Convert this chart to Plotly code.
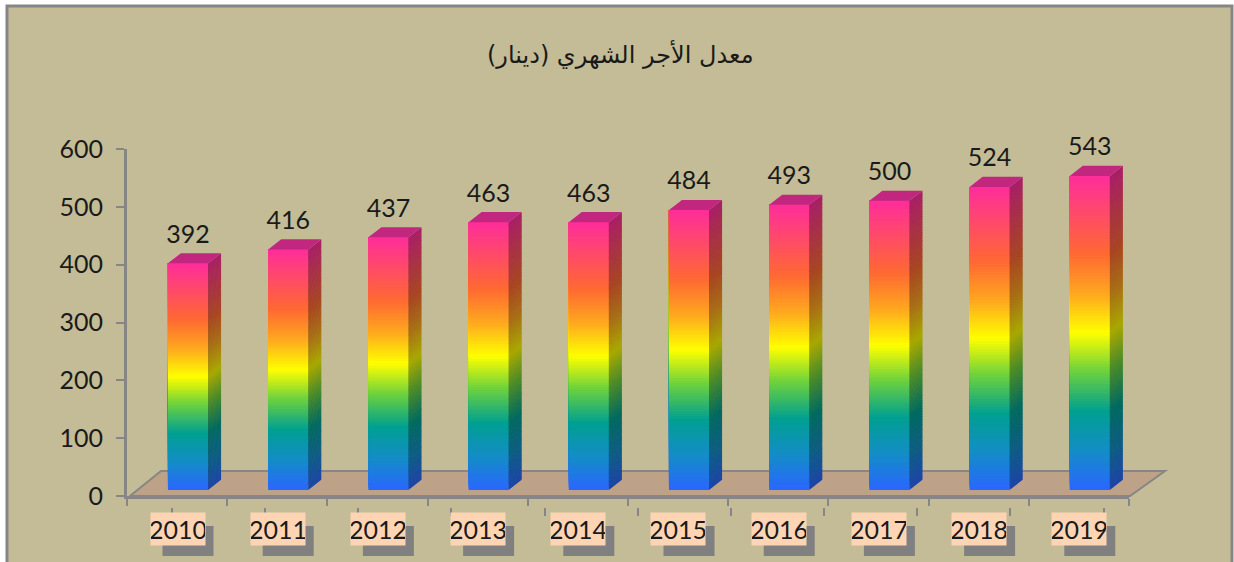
import plotly.graph_objects as go

W, H = 1234, 562
years = ["2010", "2011", "2012", "2013", "2014", "2015", "2016", "2017", "2018", "2019"]
wages = [392, 416, 437, 463, 463, 484, 493, 500, 524, 543]
y_ticks = [0, 100, 200, 300, 400, 500, 600]
title = "معدل الأجر الشهري (دينار)"

gradient_stops = [
    (0.00, (42, 102, 255)), (0.12, (20, 140, 200)), (0.25, (0, 160, 145)),
    (0.38, (110, 210, 60)), (0.50, (255, 255, 0)), (0.62, (255, 170, 30)),
    (0.75, (255, 105, 50)), (1.00, (255, 45, 155)),
]
N = 110
BASE = 10.4      # bars stand forward of the axis floor (data units)
DX, DY = 0.13, 17.5  # 3-D extrusion of the bars (data units)
HALF = 0.2
BG, GREY = "#C4BC96", "#868686"
stray_ticks = [172, 265, 358, 451, 545, 638, 731, 824, 917, 1010, 1104]


def px(x):
    return x / W


def py(y):
    return 1 - y / H


def colour(t, k=1.0):
    for (a, ca), (b, cb) in zip(gradient_stops, gradient_stops[1:]):
        if t <= b:
            f = (t - a) / (b - a)
            r, g, bl = [(p + (q - p) * f) * k for p, q in zip(ca, cb)]
            return f"rgb({r:.0f},{g:.0f},{bl:.0f})"
    return "rgb(255,45,155)"


fig = go.Figure()
xs = list(range(len(years)))

# front faces: each slice runs to the bar's top and is over-painted by the next one
for j in range(N):
    fig.add_trace(go.Bar(
        x=xs, y=[v * (N - j) / N for v in wages],
        base=[BASE + v * j / N for v in wages],
        width=HALF * 2, marker=dict(color=colour((j + 0.5) / N), line_width=0),
        hoverinfo="skip", showlegend=False,
    ))

# side faces
for j in range(N):
    sx, sy = [], []
    for i, v in zip(xs, wages):
        lo = BASE + v * j / N
        hi = BASE + v * (j + 1.25) / N if j < N - 1 else BASE + v
        r = i + HALF
        sx += [r, r + DX, r + DX, r, r, None]
        sy += [lo, lo + DY, hi + DY, hi, lo, None]
    fig.add_trace(go.Scatter(
        x=sx, y=sy, mode="lines", fill="toself", line_width=0,
        fillcolor=colour((j + 0.5) / N, 0.66), hoverinfo="skip", showlegend=False,
    ))

# top faces
tx, ty = [], []
for i, v in zip(xs, wages):
    t = BASE + v
    tx += [i - HALF, i - HALF + DX, i + HALF + DX, i + HALF, i - HALF, None]
    ty += [t, t + DY, t + DY, t, t, None]
fig.add_trace(go.Scatter(
    x=tx, y=ty, mode="lines", fill="toself", line_width=0,
    fillcolor="#C2277F", hoverinfo="skip", showlegend=False,
))

# value labels
fig.add_trace(go.Scatter(
    x=xs, y=[v + 57 for v in wages], mode="text", text=[str(v) for v in wages],
    textposition="middle center", cliponaxis=False,
    textfont=dict(family="Lato", size=25, color="#1a1a1a"),
    hoverinfo="skip", showlegend=False,
))

shapes = [
    # panel
    dict(type="rect", xref="paper", yref="paper", x0=px(7), x1=px(1232), y0=py(570), y1=py(6),
         fillcolor=BG, line=dict(color=GREY, width=3), layer="below"),
    # floor
    dict(type="path", xref="paper", yref="paper",
         path=f"M {px(130)} {py(496)} L {px(161)} {py(471)} L {px(1165)} {py(471)} L {px(1130)} {py(496)} Z",
         fillcolor="#BEA288", line=dict(color=GREY, width=2), layer="below"),
]
for s in stray_ticks:
    shapes.append(dict(type="line", xref="paper", yref="paper", x0=px(s), x1=px(s),
                       y0=py(508), y1=py(516), line=dict(color=GREY, width=2), layer="below"))

annotations = [dict(
    text=title, xref="paper", yref="paper", x=px(620), y=py(55), showarrow=False,
    xanchor="center", yanchor="middle",
    font=dict(family="DejaVu Sans", size=24, color="#1a1a1a"),
)]
for i, yr in enumerate(years):
    c = 177.5 + 100.2 * i
    shapes.append(dict(type="rect", xref="paper", yref="paper", x0=px(c - 15), x1=px(c + 36),
                       y0=py(556), y1=py(526), fillcolor="#808080", line_width=0, layer="below"))
    annotations.append(dict(
        text=yr, xref="paper", yref="paper", x=px(c), y=py(529), showarrow=False,
        xanchor="center", yanchor="middle",
        width=54, height=32, bgcolor="#FDD5B4", borderpad=0,
        font=dict(family="Lato", size=25, color="#1a1a1a"),
    ))

# axis runs from 127 px to 1129 px; bars are centred at 188 + 100.2 i
x0 = (127 - 188) / 100.2
x1 = (1129 - 188) / 100.2
fig.update_layout(
    width=W, height=H, margin=dict(l=0, r=0, t=0, b=0, autoexpand=False), autosize=False,
    paper_bgcolor="white", plot_bgcolor="rgba(0,0,0,0)", barmode="overlay",
    showlegend=False, shapes=shapes, annotations=annotations,
    xaxis=dict(domain=[px(127), px(1129)], range=[x0, x1], tickvals=[x0 + k for k in range(11)],
               showticklabels=False, ticks="outside", ticklen=7, tickwidth=2, tickcolor=GREY,
               showline=True, linecolor=GREY, linewidth=3, showgrid=False, zeroline=False),
    yaxis=dict(domain=[py(496), py(149)], range=[0, 600], tickvals=y_ticks,
               ticks="outside", ticklen=8, tickwidth=2, tickcolor=GREY,
               ticklabelstandoff=8,
               tickfont=dict(family="Lato", size=25, color="#1a1a1a"),
               showline=True, linecolor=GREY, linewidth=3, showgrid=False, zeroline=False),
)
fig.write_html(
    "out.html",
    config={"displayModeBar": False},
    post_script="document.body.style.margin='0';document.documentElement.style.overflow='hidden';",
)
